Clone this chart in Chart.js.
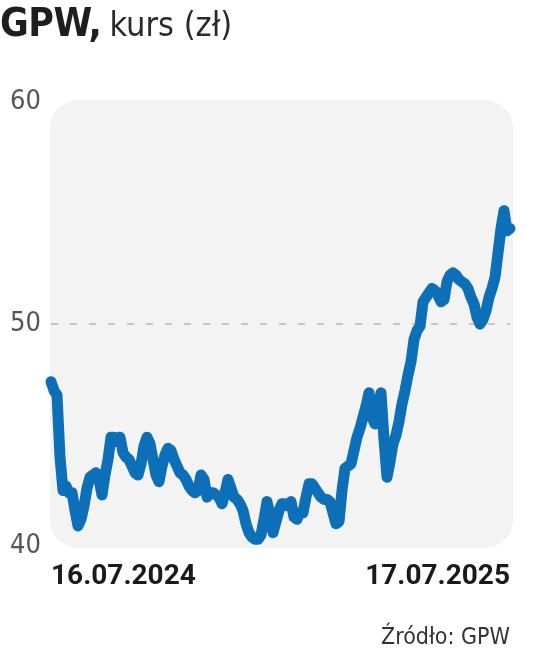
<!DOCTYPE html>
<html><head><meta charset="utf-8">
<script src="https://cdn.jsdelivr.net/npm/chart.js@4"></script>
<style>
html,body{margin:0;padding:0;background:#fff;}
#wrap{position:relative;width:536px;height:659px;overflow:hidden;background:#fff;}
#title{position:absolute;left:0;top:1px;line-height:44px;font-size:39px;white-space:nowrap;color:#1e1e1e;font-family:"DejaVu Sans Condensed","DejaVu Sans",sans-serif;}
#title b{font-weight:bold;letter-spacing:-0.5px;}
#title span{font-size:34px;margin-left:8px;color:#2a2a2a;}
#src{position:absolute;right:26px;top:621px;line-height:30px;font-size:23px;color:#333;white-space:nowrap;font-family:"DejaVu Sans Condensed","DejaVu Sans",sans-serif;}
canvas{position:absolute;left:0;top:0;}
</style>
</head><body>
<div id="wrap">
<canvas id="c" width="536" height="659"></canvas>
<div id="title"><b>GPW,</b><span>kurs (zł)</span></div>
<div id="src">Źródło: GPW</div>
</div>
<script>
// Closing prices (zł), 16.07.2024 – 17.07.2025
const prices = [
47.4,47.0,46.8,44.0,42.5,42.7,42.4,42.4,41.6,40.9,
41.2,41.8,42.6,43.1,43.2,43.3,43.0,42.3,43.2,43.9,
44.9,44.9,44.7,44.9,44.2,44.0,43.9,43.6,43.3,43.2,
43.7,44.5,44.9,44.6,43.9,43.2,42.9,43.6,44.1,44.4,
44.3,43.9,43.6,43.3,43.2,43.0,42.7,42.5,42.4,42.5,
43.2,43.0,42.2,42.4,42.4,42.3,42.2,41.9,42.4,43.0,
42.6,42.2,42.1,41.9,41.6,41.0,40.6,40.4,40.3,40.3,
40.5,41.2,42.0,41.4,40.6,41.1,41.6,41.9,41.9,41.8,
42.0,41.3,41.2,41.5,41.5,42.2,42.8,42.8,42.6,42.4,
42.2,42.1,42.1,42.0,41.5,41.0,41.1,42.5,43.5,43.6,
43.7,44.3,44.9,45.3,45.8,46.3,46.9,45.8,45.5,46.3,
46.9,44.8,43.1,43.8,44.6,45.0,45.6,46.4,47.0,47.7,
48.3,49.3,49.7,49.9,51.0,51.2,51.4,51.6,51.5,51.3,
51.0,51.1,51.9,52.2,52.3,52.2,52.0,51.9,51.8,51.6,
51.2,50.9,50.3,50.0,50.2,50.6,51.2,51.6,52.1,53.2,
54.3,55.1,54.2,54.3
];
const xTickLabels = ["16.07.2024", "17.07.2025"];
const yTickValues = [40, 50, 60];
const refLine = 50;

const bgPlugin = {
  id: 'bg',
  beforeDraw(chart) {
    const {ctx, chartArea: a} = chart;
    ctx.save();
    ctx.fillStyle = '#f3f3f3';
    ctx.beginPath();
    ctx.roundRect(a.left - 1, a.top - 2, a.right - a.left + 4, a.bottom - a.top + 4, 28);
    ctx.fill();
    ctx.restore();
  }
};

new Chart(document.getElementById('c'), {
  type: 'line',
  data: {
    datasets: [{
      data: prices.map((v, i) => ({x: i, y: v})),
      borderColor: '#0d6fb8',
      borderWidth: 11,
      pointRadius: 0,
      tension: 0,
      borderJoinStyle: 'round',
      borderCapStyle: 'round',
      fill: false,
      clip: false
    }]
  },
  options: {
    responsive: false,
    animation: false,
    devicePixelRatio: 1,
    layout: {padding: {top: 102, right: 26, bottom: 63, left: 0}},
    plugins: {legend: {display: false}, tooltip: {enabled: false}, title: {display: false}},
    scales: {
      x: {
        type: 'linear', min: 0, max: prices.length - 1,
        grid: {display: false}, border: {display: false},
        afterBuildTicks: s => { s.ticks = [{value: 0}, {value: prices.length - 1}]; },
        afterFit: s => { s.height = 50; },
        ticks: {
          align: 'inner', maxRotation: 0, autoSkip: false, padding: 6, color: '#1a1a1a',
          font: {family: 'Roboto, "DejaVu Sans Condensed", sans-serif', size: 28, weight: 'bold'},
          callback: (v, i) => xTickLabels[i]
        }
      },
      y: {
        min: 40, max: 60,
        afterBuildTicks: s => { s.ticks = yTickValues.map(v => ({value: v})); },
        afterFit: s => { s.width = 51; },
        grid: {
          color: c => (c.tick && c.tick.value === refLine) ? '#c6c6c6' : 'rgba(0,0,0,0)',
          lineWidth: 2, drawTicks: false
        },
        border: {display: false, dash: [7, 12]},
        ticks: {padding: 10, color: '#555', font: {family: '"DejaVu Sans Condensed", sans-serif', size: 27}}
      }
    }
  },
  plugins: [bgPlugin]
});
</script>
</body></html>
